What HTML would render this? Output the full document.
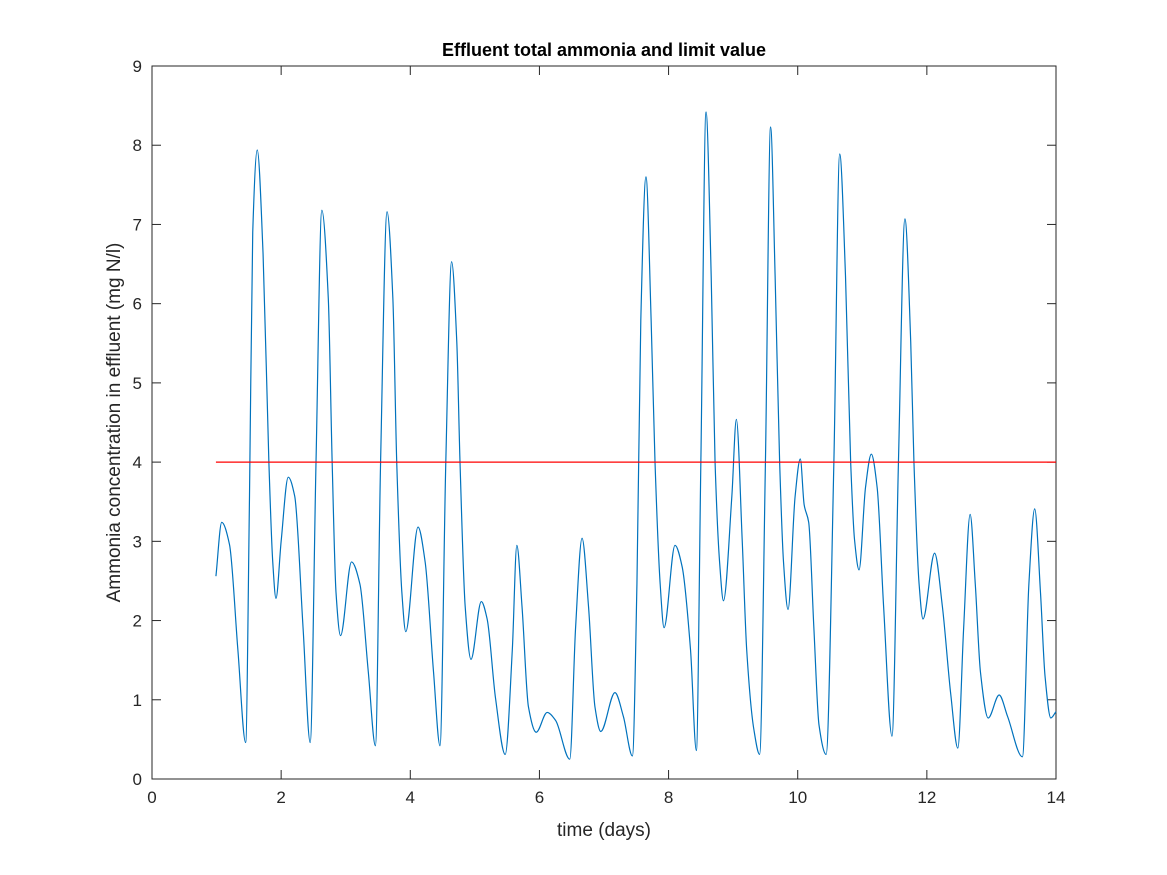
<!DOCTYPE html>
<html><head><meta charset="utf-8"><style>
body{margin:0;background:#fff}
svg{display:block;font-family:"Liberation Sans",sans-serif}
</style></head><body>
<svg id="chart" width="1167" height="875">
<rect width="1167" height="875" fill="#fff"/>
<g id="plot"></g>
</svg>
<script>
const xTicks=[0,2,4,6,8,10,12,14];
const yTicks=[0,1,2,3,4,5,6,7,8,9];
const limitValue=4;
const days=[0.99,1.08,1.20,1.33,1.45,1.51,1.56,1.63,1.72,1.81,1.87,1.92,2.0,2.11,2.21,2.34,2.45,2.54,2.63,2.73,2.79,2.85,2.92,3.09,3.22,3.35,3.46,3.54,3.64,3.73,3.79,3.87,3.93,4.12,4.23,4.36,4.46,4.55,4.64,4.72,4.77,4.85,4.94,5.10,5.19,5.32,5.47,5.58,5.65,5.73,5.83,5.95,6.12,6.25,6.47,6.56,6.66,6.76,6.86,6.95,7.17,7.30,7.44,7.51,7.57,7.65,7.73,7.79,7.87,7.93,8.10,8.21,8.34,8.43,8.50,8.58,8.66,8.72,8.79,8.85,8.98,9.05,9.14,9.21,9.32,9.41,9.50,9.58,9.65,9.72,9.78,9.85,9.96,10.04,10.10,10.17,10.25,10.33,10.44,10.56,10.65,10.74,10.82,10.88,10.95,11.05,11.14,11.23,11.33,11.46,11.56,11.66,11.75,11.80,11.88,11.94,12.12,12.24,12.37,12.48,12.57,12.67,12.75,12.83,12.95,13.12,13.25,13.48,13.58,13.67,13.76,13.83,13.92,14.0];
const ammonia=[2.56,3.24,2.96,1.63,0.46,3.57,6.9,7.94,6.63,4.0,2.74,2.28,3.0,3.81,3.57,1.9,0.46,4.0,7.18,6.07,4.0,2.35,1.81,2.74,2.46,1.35,0.42,4.0,7.16,6.07,4.0,2.35,1.86,3.18,2.74,1.35,0.42,4.0,6.53,5.52,4.0,2.18,1.51,2.24,2.02,1.02,0.31,1.63,2.95,2.18,0.91,0.59,0.84,0.74,0.25,1.91,3.04,2.18,0.91,0.6,1.09,0.79,0.29,2.46,5.79,7.6,5.79,4.0,2.46,1.91,2.95,2.68,1.63,0.36,4.0,8.42,6.35,4.0,2.74,2.25,3.57,4.54,3.02,1.63,0.63,0.31,4.0,8.23,6.35,4.0,2.74,2.14,3.57,4.04,3.46,3.24,1.91,0.68,0.31,4.0,7.89,6.35,4.0,3.02,2.64,3.68,4.1,3.68,2.18,0.54,4.0,7.07,5.52,4.0,2.46,2.02,2.85,2.18,1.07,0.39,1.91,3.34,2.46,1.35,0.77,1.06,0.79,0.28,2.46,3.41,2.35,1.3,0.77,0.85];
const L=152,R=1056,T=66,B=779;
const sx=v=>L+(v-0)/(14-0)*(R-L);
const sy=v=>B-(v-0)/(9-0)*(B-T);
const NS='http://www.w3.org/2000/svg';
const g=document.getElementById('plot');
function mk(t,a){const e=document.createElementNS(NS,t);for(const k in a)e.setAttribute(k,a[k]);g.appendChild(e);return e;}
let e=mk('rect',{x:L,y:T,width:R-L,height:B-T,fill:'#fff',stroke:'#262626','stroke-width':1});


xTicks.forEach(t=>{const x=sx(t);
 let a=mk('line',{x1:x,x2:x,y1:B,y2:B-9,stroke:'#262626'});
 let b=mk('line',{x1:x,x2:x,y1:T,y2:T+9,stroke:'#262626'});
 let l=mk('text',{x:x,y:B+24,'text-anchor':'middle','font-size':17,fill:'#262626'});l.textContent=t;});
yTicks.forEach(t=>{const y=sy(t);
 let a=mk('line',{x1:L,x2:L+9,y1:y,y2:y,stroke:'#262626'});
 let b=mk('line',{x1:R,x2:R-9,y1:y,y2:y,stroke:'#262626'});
 let l=mk('text',{x:L-10,y:y+6,'text-anchor':'end','font-size':17,fill:'#262626'});l.textContent=t;});
// monotone cubic (Fritsch-Carlson)
const X=days.map(sx),Y=ammonia.map(sy),n=X.length;
const dl=[],m=new Array(n);
for(let i=0;i<n-1;i++)dl.push((Y[i+1]-Y[i])/(X[i+1]-X[i]));
m[0]=dl[0];m[n-1]=dl[n-2];
for(let i=1;i<n-1;i++){if(dl[i-1]*dl[i]<=0)m[i]=0;else{const h0=X[i]-X[i-1],h1=X[i+1]-X[i];const w1=2*h1+h0,w2=h1+2*h0;m[i]=(w1+w2)/(w1/dl[i-1]+w2/dl[i]);}}
let dstr='M'+X[0]+','+Y[0];
for(let i=0;i<n-1;i++){const h=X[i+1]-X[i];
 dstr+=` C${X[i]+h/3},${Y[i]+m[i]*h/3} ${X[i+1]-h/3},${Y[i+1]-m[i+1]*h/3} ${X[i+1]},${Y[i+1]}`;}
e=mk('path',{d:dstr,fill:'none',stroke:'#0072bd','stroke-width':1.2});


e=mk('line',{x1:sx(days[0]),x2:sx(14),y1:sy(limitValue),y2:sy(limitValue),stroke:'#ff0000','stroke-width':1.2});


e=mk('text',{x:(L+R)/2,y:56,'text-anchor':'middle','font-size':18,'font-weight':'bold',fill:'#000'});e.textContent='Effluent total ammonia and limit value';


e=mk('text',{x:(L+R)/2,y:836,'text-anchor':'middle','font-size':19,fill:'#262626'});e.textContent='time (days)';


e=mk('text',{x:0,y:0,'text-anchor':'middle','font-size':19,fill:'#262626',transform:`translate(120,${(T+B)/2}) rotate(-90)`});e.textContent='Ammonia concentration in effluent (mg N/l)';


</script>
</body></html>
